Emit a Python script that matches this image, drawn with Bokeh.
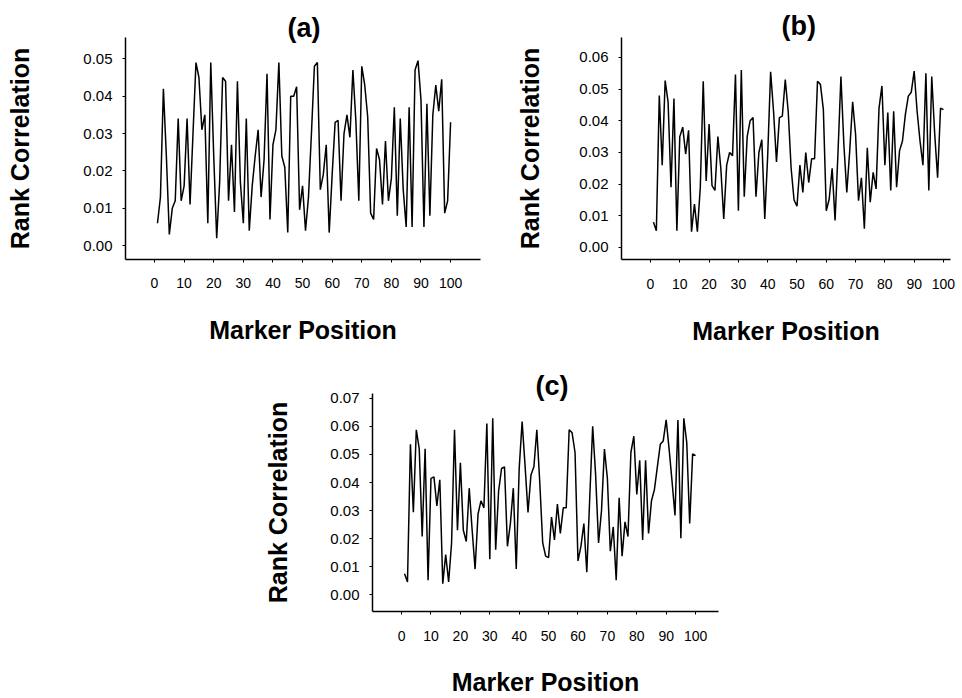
from bokeh.plotting import figure
from bokeh.layouts import column, row
from bokeh.models import Spacer, FixedTicker, PrintfTickFormatter, Range1d
from bokeh.embed import file_html
from bokeh.resources import INLINE

# ---------------- data ----------------
positions = list(range(1, 101))

corr_a = [0.006, 0.013, 0.042, 0.024, 0.003, 0.010, 0.012, 0.034, 0.012, 0.016,
          0.034, 0.011, 0.030, 0.049, 0.045, 0.031, 0.035, 0.006, 0.049, 0.024,
          0.002, 0.017, 0.045, 0.044, 0.012, 0.027, 0.009, 0.044, 0.017, 0.006,
          0.034, 0.004, 0.016, 0.024, 0.031, 0.013, 0.023, 0.046, 0.007, 0.027,
          0.031, 0.049, 0.024, 0.021, 0.0035, 0.040, 0.040, 0.0425, 0.0096, 0.016,
          0.004, 0.013, 0.030, 0.048, 0.049, 0.015, 0.019, 0.027, 0.0035, 0.019,
          0.033, 0.0335, 0.012, 0.030, 0.035, 0.029, 0.047, 0.0335, 0.012, 0.048,
          0.043, 0.0345, 0.0087, 0.007, 0.026, 0.023, 0.011, 0.028, 0.012, 0.018,
          0.037, 0.008, 0.034, 0.015, 0.005, 0.037, 0.005, 0.047, 0.0495, 0.039,
          0.005, 0.038, 0.008, 0.035, 0.043, 0.036, 0.0445, 0.0087, 0.012, 0.033]

corr_b = [0.008, 0.0053, 0.048, 0.026, 0.0527, 0.046, 0.019, 0.047, 0.0053, 0.035,
          0.038, 0.0295, 0.037, 0.005, 0.0137, 0.005, 0.019, 0.0525, 0.021, 0.039,
          0.0195, 0.018, 0.035, 0.025, 0.009, 0.026, 0.030, 0.029, 0.0546, 0.0116,
          0.056, 0.016, 0.035, 0.040, 0.041, 0.016, 0.030, 0.034, 0.009, 0.029,
          0.0555, 0.043, 0.027, 0.041, 0.0415, 0.053, 0.043, 0.025, 0.015, 0.013,
          0.026, 0.0174, 0.030, 0.0205, 0.028, 0.028, 0.0525, 0.0515, 0.0436, 0.0116,
          0.0153, 0.025, 0.0085, 0.030, 0.054, 0.0326, 0.0174, 0.0305, 0.046, 0.0357,
          0.0148, 0.022, 0.0059, 0.0315, 0.0143, 0.0237, 0.0185, 0.044, 0.051, 0.026,
          0.0426, 0.018, 0.043, 0.019, 0.0305, 0.0336, 0.042, 0.0478, 0.049, 0.0557,
          0.043, 0.0336, 0.026, 0.055, 0.018, 0.054, 0.036, 0.022, 0.044, 0.0435]

corr_c = [0.0075, 0.0046, 0.0536, 0.0294, 0.0588, 0.052, 0.0208, 0.052, 0.0052, 0.0415,
          0.042, 0.0317, 0.041, 0.004, 0.0144, 0.0046, 0.0185, 0.0588, 0.023, 0.047,
          0.023, 0.019, 0.038, 0.023, 0.0092, 0.0288, 0.0335, 0.031, 0.061, 0.0127,
          0.0629, 0.0161, 0.037, 0.045, 0.0456, 0.0173, 0.0254, 0.038, 0.0092, 0.045,
          0.0617, 0.046, 0.0294, 0.0427, 0.0456, 0.0588, 0.040, 0.0185, 0.0138, 0.0133,
          0.0277, 0.0196, 0.0323, 0.0219, 0.031, 0.031, 0.0588, 0.0577, 0.0507, 0.0121,
          0.0173, 0.0254, 0.0081, 0.0346, 0.060, 0.0427, 0.0185, 0.030, 0.0519, 0.0415,
          0.0156, 0.0242, 0.0052, 0.0346, 0.0138, 0.026, 0.0208, 0.0507, 0.0565, 0.0358,
          0.0479, 0.0196, 0.0479, 0.0219, 0.0335, 0.0375, 0.0456, 0.0536, 0.0548, 0.0623,
          0.0519, 0.0404, 0.0283, 0.0623, 0.0202, 0.0629, 0.0542, 0.0254, 0.0502, 0.0496]

x_ticks = [0, 10, 20, 30, 40, 50, 60, 70, 80, 90, 100]
y_ticks_a = [0.00, 0.01, 0.02, 0.03, 0.04, 0.05]
y_ticks_b = [0.00, 0.01, 0.02, 0.03, 0.04, 0.05, 0.06]
y_ticks_c = [0.00, 0.01, 0.02, 0.03, 0.04, 0.05, 0.06, 0.07]
panel_titles = ["(a)", "(b)", "(c)"]
x_label = "Marker Position"
y_label = "Rank Correlation"

FONT = "Liberation Sans"


def make_panel(values, yticks, xr, yr, width, height, borders, title,
               title_offset, title_standoff, ylab_standoff, xtick_standoff,
               xlab_standoff):
    left, right, top, bottom = borders
    p = figure(width=width, height=height,
               x_range=Range1d(*xr), y_range=Range1d(*yr),
               output_backend="svg", toolbar_location=None,
               min_border_left=left, min_border_right=right,
               min_border_top=top, min_border_bottom=bottom,
               background_fill_color="white", border_fill_color="white",
               title=title)
    p.outline_line_color = None
    p.xgrid.visible = False
    p.ygrid.visible = False
    p.line(positions, values, line_color="black", line_width=1.5)

    p.title.align = "left"
    p.title.offset = title_offset
    p.title.standoff = title_standoff
    p.title.vertical_align = "bottom"
    p.title.text_font = FONT
    p.title.text_font_style = "bold"
    p.title.text_font_size = "27px"
    p.title.text_color = "black"

    xa = p.xaxis[0]
    xa.ticker = FixedTicker(ticks=x_ticks)
    xa.axis_line_color = "black"
    xa.axis_line_width = 1.5
    xa.major_tick_in = 0
    xa.major_tick_out = 3
    xa.minor_tick_line_color = None
    xa.major_label_standoff = xtick_standoff
    xa.major_label_text_font = FONT
    xa.major_label_text_font_size = "14px"
    xa.major_label_text_color = "black"
    xa.axis_label = x_label
    xa.axis_label_text_font = FONT
    xa.axis_label_text_font_style = "bold"
    xa.axis_label_text_font_size = "25px"
    xa.axis_label_text_color = "black"
    xa.axis_label_standoff = xlab_standoff

    ya = p.yaxis[0]
    ya.ticker = FixedTicker(ticks=yticks)
    ya.formatter = PrintfTickFormatter(format="%.2f")
    ya.axis_line_color = "black"
    ya.axis_line_width = 1.5
    ya.major_tick_in = 0
    ya.major_tick_out = 3
    ya.minor_tick_line_color = None
    ya.major_label_standoff = 10
    ya.major_label_text_font = FONT
    ya.major_label_text_font_size = "15px"
    ya.major_label_text_color = "black"
    ya.axis_label = y_label
    ya.axis_label_text_font = FONT
    ya.axis_label_text_font_style = "bold"
    ya.axis_label_text_font_size = "25px"
    ya.axis_label_text_color = "black"
    ya.axis_label_standoff = ylab_standoff
    return p


pa = make_panel(corr_a, y_ticks_a, (-9.8, 110.1), (-0.0037, 0.0557),
                490, 358, (125, 10, 37, 98), panel_titles[0],
                162, -10, 46, 15, 25)
pb = make_panel(corr_b, y_ticks_b, (-9.9, 102.4), (-0.0038, 0.0663),
                472, 358, (131, 12, 36, 99), panel_titles[1],
                160, -6, 32, 16, 25)
pc = make_panel(corr_c, y_ticks_c, (-9.9, 107.8), (-0.0059, 0.0717),
                488, 340, (132, 10, 35, 81), panel_titles[2],
                163, -14, 35, 16, 24)

layout = column(row(pa, pb, spacing=0),
                row(Spacer(width=240, height=340), pc, spacing=0),
                spacing=0)

open("out.html", "w").write(file_html(layout, INLINE))
